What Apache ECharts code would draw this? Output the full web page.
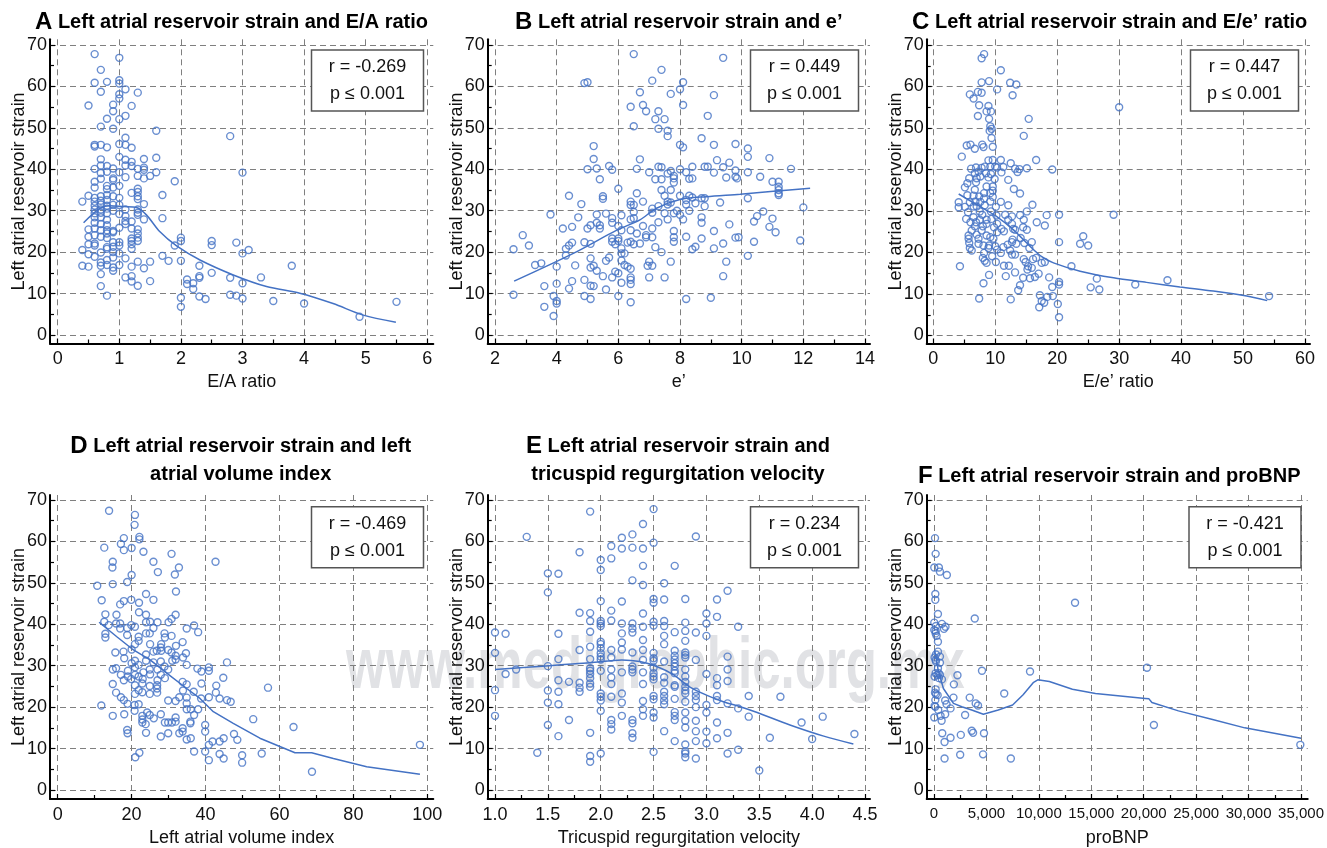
<!DOCTYPE html>
<html><head><meta charset="utf-8">
<script src="https://cdn.jsdelivr.net/npm/echarts@6/dist/echarts.min.js"></script>
<style>html,body{margin:0;padding:0;background:#fff}#c{width:1327px;height:848px}</style>
</head><body><div id="c"></div>
<script>
// ---------------- DATA ----------------
const yTicks = [0, 10, 20, 30, 40, 50, 60, 70];
const yMinor = [5, 15, 25, 35, 45, 55, 65];
const yName = 'Left atrial reservoir strain';

const aXTicks = [0, 1, 2, 3, 4, 5, 6];
const aXMinor = [0.5, 1.5, 2.5, 3.5, 4.5, 5.5];
const bXTicks = [2, 4, 6, 8, 10, 12, 14];
const bXMinor = [3, 5, 7, 9, 11, 13];
const cXTicks = [0, 10, 20, 30, 40, 50, 60];
const cXMinor = [5, 15, 25, 35, 45, 55];
const dXTicks = [0, 20, 40, 60, 80, 100];
const dXMinor = [10, 30, 50, 70, 90];
const eXTicks = [1.0, 1.5, 2.0, 2.5, 3.0, 3.5, 4.0, 4.5];
const eXMinor = [1.25, 1.75, 2.25, 2.75, 3.25, 3.75, 4.25];
const fXTicks = [0, 5000, 10000, 15000, 20000, 25000, 30000, 35000];
const fXMinor = [2500, 7500, 12500, 17500, 22500, 27500, 32500];

const aStats = ['r = -0.269', 'p \u2264 0.001'];
const bStats = ['r = 0.449', 'p \u2264 0.001'];
const cStats = ['r = 0.447', 'p \u2264 0.001'];
const dStats = ['r = -0.469', 'p \u2264 0.001'];
const eStats = ['r = 0.234', 'p \u2264 0.001'];
const fStats = ['r = -0.421', 'p \u2264 0.001'];

const aPoints = [[0.6,67.8],[1.0,66.9],[0.7,64.0],[0.6,60.9],[0.8,61.1],[1.0,61.5],[1.0,60.7],[0.7,58.7],[1.1,59.3],[1.0,58.1],[1.3,58.5],[1.0,57.1],[0.5,55.4],[0.9,55.6],[1.2,55.3],[0.9,54.0],[1.1,52.9],[0.8,52.2],[1.0,52.1],[0.7,50.3],[0.9,49.8],[1.6,49.3],[2.8,48.0],[1.1,47.6],[0.6,45.9],[0.6,45.5],[0.7,45.9],[0.8,45.3],[1.0,46.1],[1.1,45.9],[1.2,45.2],[0.7,42.4],[1.0,43.0],[1.1,42.3],[1.2,41.8],[1.4,42.5],[1.6,42.8],[0.6,40.1],[0.7,40.9],[0.8,40.8],[0.9,40.2],[1.1,40.9],[1.2,40.8],[1.3,40.1],[1.4,40.4],[0.7,39.1],[0.8,39.4],[1.0,39.3],[1.4,39.9],[1.6,39.3],[3.0,39.2],[0.7,37.7],[0.9,37.8],[0.9,37.4],[1.1,38.1],[1.3,38.4],[1.4,37.8],[1.5,38.4],[1.9,37.1],[0.6,37.0],[0.8,36.0],[1.0,36.0],[0.6,35.6],[0.8,35.2],[0.9,35.6],[1.3,35.3],[1.3,34.5],[1.2,34.3],[1.7,33.8],[0.5,33.6],[0.7,33.5],[0.8,33.8],[0.9,33.5],[1.3,33.5],[1.0,33.1],[1.3,32.8],[0.4,32.2],[0.6,33.1],[0.6,32.2],[0.7,32.4],[0.8,32.6],[1.4,31.6],[0.6,31.2],[0.7,31.5],[0.8,31.2],[0.9,31.4],[1.0,31.4],[0.6,30.3],[0.7,30.3],[0.8,30.5],[0.9,30.0],[1.1,30.3],[1.3,30.3],[0.6,29.4],[0.7,29.5],[0.8,29.4],[1.0,29.2],[1.3,29.5],[1.3,29.0],[1.1,28.7],[1.7,28.2],[0.6,28.4],[0.7,28.4],[0.8,27.8],[1.4,27.9],[1.1,27.5],[0.6,27.1],[0.7,26.8],[1.1,26.8],[1.2,27.4],[0.8,26.5],[0.6,25.7],[1.0,25.9],[1.2,25.7],[1.3,25.5],[0.5,25.5],[0.7,25.3],[0.8,25.3],[0.9,25.1],[0.9,24.8],[1.3,24.5],[0.8,24.5],[0.6,24.1],[0.5,23.7],[0.7,23.7],[1.2,23.3],[1.3,23.5],[2.0,23.5],[0.8,23.4],[1.2,22.7],[1.3,22.7],[2.5,22.7],[2.0,22.7],[2.9,22.3],[0.6,22.1],[0.5,21.9],[0.9,22.4],[1.0,22.4],[1.0,21.6],[0.6,21.6],[2.5,21.7],[1.9,21.6],[0.8,21.2],[0.9,21.3],[1.2,21.9],[0.8,20.8],[1.2,20.8],[0.4,20.5],[3.1,20.5],[1.0,19.7],[0.7,19.9],[0.5,19.5],[0.9,20.0],[3.0,19.7],[0.6,18.9],[0.9,18.7],[1.1,18.5],[1.7,19.1],[1.8,17.9],[2.0,17.9],[0.8,18.1],[0.7,17.5],[1.3,17.7],[1.5,17.7],[0.7,16.7],[0.8,16.9],[1.0,16.9],[0.4,16.7],[0.5,16.5],[3.8,16.7],[2.3,16.7],[1.2,16.5],[1.4,16.1],[0.9,16.3],[0.9,15.5],[0.7,14.7],[2.5,15.0],[1.2,14.2],[2.3,14.2],[2.3,13.8],[1.1,13.9],[2.8,13.8],[3.3,13.9],[2.1,13.4],[1.2,12.9],[1.5,13.0],[2.2,12.5],[2.1,12.3],[3.0,12.5],[1.3,11.9],[0.7,11.8],[2.2,11.1],[2.8,9.7],[2.9,9.5],[0.8,9.5],[2.3,9.3],[2.0,9.0],[2.4,8.7],[3.0,8.8],[3.5,8.2],[5.5,8.0],[4.0,7.6],[2.0,6.8],[4.9,4.4]];
const aFit = [[0.42,27.1],[0.69,30.6],[0.85,31.2],[1.07,31.0],[1.28,30.8],[1.44,29.0],[1.66,24.9],[1.93,21.5],[2.31,18.1],[2.85,14.5],[3.39,11.7],[3.93,10.1],[4.47,7.6],[4.96,4.8],[5.49,3.1]];

const bPoints = [[6.5,67.8],[9.4,66.9],[7.4,64.0],[7.1,61.4],[4.9,60.8],[5.0,61.0],[8.1,61.0],[8.0,59.3],[6.7,58.6],[7.7,58.2],[9.1,57.9],[6.8,55.5],[8.1,55.5],[6.4,55.1],[6.9,54.0],[7.3,54.0],[7.2,52.1],[7.5,52.1],[8.9,52.9],[6.5,50.4],[7.3,49.8],[7.6,49.3],[7.6,48.0],[8.7,47.5],[5.2,45.6],[8.0,45.9],[8.1,45.3],[9.1,45.9],[9.8,46.1],[10.2,45.0],[5.2,42.5],[6.7,42.4],[10.2,43.0],[10.9,42.7],[9.2,42.2],[9.6,41.6],[7.3,40.6],[7.4,40.5],[8.4,40.6],[8.8,40.6],[8.9,40.6],[5.7,40.8],[5.3,40.2],[5.0,40.0],[5.8,39.9],[6.6,40.1],[8.0,40.0],[7.0,39.3],[7.6,39.0],[7.7,39.6],[8.2,39.3],[9.1,39.2],[9.4,40.5],[9.8,39.7],[10.2,39.3],[11.6,40.1],[5.4,37.6],[7.2,37.6],[7.4,37.6],[7.8,37.8],[8.3,37.7],[8.4,37.8],[9.5,38.0],[9.8,38.2],[9.85,37.8],[10.6,38.2],[7.8,38.4],[7.8,36.8],[11.0,37.0],[11.2,37.0],[11.2,35.8],[11.2,35.0],[6.0,35.3],[7.4,35.0],[7.7,35.0],[11.2,34.2],[11.2,33.8],[4.4,33.6],[5.5,33.5],[5.5,32.9],[6.6,34.2],[7.5,33.6],[8.0,33.6],[8.3,33.6],[8.4,33.2],[8.2,32.6],[8.7,33.0],[8.8,33.0],[10.2,33.0],[6.4,32.2],[6.8,32.2],[7.6,32.2],[7.7,32.0],[9.3,32.0],[6.4,31.4],[6.5,31.4],[4.8,31.6],[7.3,31.1],[7.6,31.5],[8.2,31.5],[8.5,31.8],[8.8,31.1],[7.1,30.5],[7.1,29.5],[3.8,29.1],[5.3,29.1],[5.6,29.3],[5.8,28.2],[6.1,28.9],[6.5,29.7],[7.5,29.4],[7.8,29.4],[7.9,30.0],[8.0,29.0],[8.3,30.0],[10.7,29.8],[4.7,28.4],[6.4,27.9],[6.5,28.2],[8.1,27.9],[8.7,28.4],[10.5,28.7],[11.0,28.1],[5.3,27.1],[5.8,27.1],[7.3,27.2],[7.6,27.9],[8.7,27.1],[9.6,26.7],[10.4,27.4],[5.1,26.5],[5.4,26.5],[6.0,26.3],[6.8,26.3],[4.2,25.7],[4.5,26.1],[5.0,25.7],[5.4,25.7],[6.1,25.3],[6.4,25.3],[7.1,25.7],[7.8,25.1],[9.1,25.1],[10.9,26.1],[11.1,24.8],[2.9,24.1],[6.6,24.5],[6.9,24.1],[6.9,23.6],[7.1,23.6],[7.8,23.6],[8.2,23.7],[8.7,23.3],[9.9,23.6],[9.8,23.5],[5.8,23.3],[6.0,23.3],[6.0,22.7],[7.8,22.5],[6.4,22.5],[6.3,22.3],[6.7,22.1],[6.5,21.9],[4.5,22.3],[4.9,22.4],[5.1,22.0],[5.9,21.9],[9.4,22.1],[10.4,22.5],[11.9,22.8],[3.1,21.6],[4.4,21.6],[5.8,22.5],[4.3,20.8],[6.1,20.9],[6.2,19.7],[7.2,21.2],[7.4,20.0],[8.5,21.3],[8.4,20.7],[9.1,20.9],[2.6,20.7],[4.3,19.2],[6.1,19.7],[10.2,19.1],[5.1,18.5],[5.7,18.7],[5.6,17.9],[6.1,18.0],[7.7,17.7],[9.5,17.7],[7.0,17.7],[3.3,16.9],[3.5,17.3],[4.0,16.5],[4.6,16.8],[5.2,16.7],[5.1,16.3],[6.2,16.9],[7.1,16.7],[6.95,16.7],[6.3,16.5],[6.4,16.0],[5.3,15.5],[5.9,15.3],[6.0,14.9],[5.5,14.2],[5.8,13.9],[6.4,13.9],[7.0,13.9],[7.5,13.9],[9.4,14.2],[4.5,13.0],[4.9,13.3],[6.4,13.3],[6.1,12.6],[6.4,12.3],[4.0,12.4],[5.1,11.9],[5.2,11.8],[3.6,11.8],[4.4,11.2],[5.6,11.0],[2.6,9.7],[3.9,9.4],[4.9,9.4],[6.0,9.4],[5.1,8.7],[8.2,8.7],[9.0,9.0],[4.0,8.2],[4.0,7.6],[6.4,7.9],[3.6,6.8],[3.9,4.6],[12.0,30.8]];
const bFit = [[2.62,13.0],[4.54,19.7],[5.95,25.3],[6.7,27.8],[7.24,30.6],[8.0,32.7],[8.86,33.4],[9.95,34.0],[11.03,34.7],[12.22,35.4]];

const cPoints = [[8.2,67.8],[7.8,66.8],[10.9,63.9],[7.8,61.0],[9.0,61.3],[12.4,60.9],[13.4,60.5],[10.3,59.3],[7.2,58.7],[7.8,58.5],[5.9,58.1],[6.5,57.1],[12.8,57.9],[7.4,55.5],[8.9,55.3],[8.6,54.0],[9.3,54.0],[7.2,52.9],[9.0,52.2],[15.4,52.2],[9.2,50.4],[9.4,49.8],[9.1,49.3],[14.6,48.1],[9.4,47.6],[5.4,45.8],[6.0,46.0],[7.9,46.0],[8.1,45.4],[6.7,45.0],[9.6,45.5],[4.6,43.1],[8.9,42.2],[9.6,42.3],[10.9,42.3],[16.6,42.3],[12.5,41.5],[6.1,40.2],[6.9,40.5],[7.8,40.4],[8.3,40.7],[9.2,40.7],[10.0,40.7],[10.3,40.5],[11.3,40.6],[13.2,40.2],[13.9,40.1],[15.1,40.3],[19.2,40.0],[6.7,39.1],[7.3,39.5],[8.5,39.1],[9.3,38.9],[11.0,39.3],[13.6,39.4],[7.0,37.9],[7.6,38.3],[8.9,38.1],[9.9,37.7],[12.1,37.5],[5.8,37.9],[5.5,36.7],[6.9,36.9],[8.6,35.9],[9.6,35.9],[13.0,35.3],[5.1,35.7],[6.7,35.1],[9.6,34.9],[8.2,34.3],[9.2,34.3],[14.0,34.2],[5.5,33.8],[6.5,33.7],[7.4,33.5],[8.2,33.0],[9.6,33.4],[4.1,32.1],[5.9,32.1],[6.8,32.3],[7.6,32.2],[9.2,32.3],[10.9,32.2],[12.1,31.4],[16.0,31.5],[4.1,30.9],[5.1,31.0],[6.5,31.1],[7.0,31.1],[8.3,31.4],[10.1,31.0],[5.6,29.7],[7.5,29.9],[9.3,29.9],[15.1,29.9],[7.9,29.1],[10.2,28.9],[11.6,29.1],[14.0,29.0],[18.3,29.0],[20.3,29.1],[29.1,29.1],[5.3,28.1],[6.5,28.5],[7.5,27.9],[8.6,27.9],[9.4,28.1],[12.7,28.7],[14.6,27.9],[12.1,27.9],[6.0,27.3],[6.9,27.3],[8.6,26.9],[10.3,26.9],[12.7,26.9],[16.7,27.3],[6.7,26.3],[8.0,26.3],[9.8,26.1],[11.0,25.7],[12.9,25.7],[14.5,26.1],[15.1,25.5],[18.0,26.5],[6.2,25.3],[7.8,25.3],[10.3,24.9],[11.4,25.1],[13.2,25.5],[5.7,24.1],[7.0,24.3],[8.6,24.1],[9.2,23.7],[14.1,23.5],[24.2,23.9],[5.7,23.3],[7.3,23.3],[9.7,23.3],[12.8,23.1],[15.9,22.5],[20.3,22.5],[23.7,22.1],[25.0,21.7],[5.8,22.3],[7.3,22.1],[8.1,21.7],[9.0,21.7],[10.0,21.5],[11.3,21.3],[12.0,21.9],[12.7,22.5],[13.4,22.1],[14.7,22.3],[5.9,21.1],[6.2,20.5],[8.9,21.1],[10.3,20.7],[12.4,20.5],[15.5,21.1],[10.9,19.9],[12.7,19.5],[13.2,19.5],[8.2,19.9],[9.5,19.1],[8.0,18.7],[14.6,18.4],[16.1,18.4],[16.6,18.7],[8.3,18.0],[8.6,17.5],[10.1,17.7],[14.9,17.7],[17.5,17.5],[18.0,17.7],[11.4,16.8],[12.2,16.8],[15.3,16.7],[15.9,16.3],[22.3,16.7],[4.3,16.7],[15.2,15.9],[13.2,15.2],[17.0,14.9],[9.0,14.6],[11.7,14.3],[14.5,13.9],[15.6,13.8],[16.4,14.1],[18.7,14.0],[26.4,13.7],[20.3,12.9],[37.8,13.3],[32.6,12.3],[8.1,12.6],[14.0,12.1],[20.3,12.3],[19.2,11.7],[25.4,11.6],[26.8,11.1],[13.7,10.9],[17.2,9.7],[7.4,8.9],[12.5,8.7],[18.4,9.3],[19.3,9.5],[54.2,9.5],[17.5,8.3],[17.9,7.9],[17.1,6.8],[20.1,7.6],[20.3,4.4],[30.0,55.0]];
const cFit = [[4.1,34.1],[7.5,31.1],[10.2,28.7],[12.9,25.5],[15.6,21.5],[17.5,19.0],[19.4,17.5],[23.7,15.5],[29.1,13.9],[34.4,12.8],[39.8,11.7],[45.2,10.7],[50.6,9.5],[53.9,8.4]];

const dPoints = [[13.9,67.4],[20.9,66.4],[20.8,64.0],[22.1,61.1],[22.1,60.5],[17.9,60.8],[17.1,59.4],[12.6,58.5],[20.0,58.4],[17.9,57.9],[23.2,57.5],[30.8,57.0],[14.9,55.1],[14.8,53.7],[25.9,55.1],[42.7,55.1],[32.8,53.7],[27.1,52.6],[31.7,52.0],[20.0,51.9],[18.8,50.2],[14.9,49.7],[10.7,49.3],[32.0,47.9],[23.9,47.3],[11.9,45.8],[17.9,45.6],[19.9,45.9],[22.0,45.2],[25.9,45.9],[16.9,44.8],[12.9,42.4],[15.9,42.3],[23.9,42.3],[22.0,42.9],[31.9,42.3],[30.8,41.3],[30.0,40.5],[12.6,40.6],[16.9,40.2],[13.8,39.8],[15.8,40.2],[19.9,39.8],[20.9,39.4],[23.9,40.5],[25.0,40.6],[27.0,40.5],[18.8,39.1],[16.9,39.0],[25.9,39.1],[36.9,39.7],[34.9,39.0],[38.0,38.1],[12.9,37.7],[12.9,36.8],[18.8,37.4],[23.9,37.8],[24.9,37.8],[21.9,37.0],[28.9,37.8],[29.0,36.8],[30.8,37.2],[21.9,36.0],[20.9,35.2],[25.0,35.2],[33.8,35.7],[32.0,34.8],[28.0,35.2],[27.9,34.4],[26.8,33.6],[28.0,33.6],[29.9,33.8],[20.0,33.9],[17.8,33.4],[15.6,33.2],[23.9,32.7],[25.9,33.4],[30.8,33.2],[34.7,33.0],[31.9,32.4],[33.9,32.0],[18.0,31.8],[20.9,31.2],[23.9,31.2],[25.9,30.8],[27.9,31.0],[31.0,31.2],[31.9,31.5],[20.0,30.6],[20.9,29.6],[21.9,30.2],[24.9,29.1],[14.9,29.1],[15.8,29.4],[27.0,29.1],[28.9,29.8],[29.9,29.1],[34.9,30.2],[37.8,29.3],[38.9,28.6],[40.9,29.6],[40.9,28.8],[45.8,30.8],[19.0,28.8],[23.2,28.4],[17.1,27.8],[19.0,27.4],[20.9,27.8],[21.9,27.4],[25.0,27.9],[27.9,27.8],[29.0,27.0],[17.9,26.5],[19.9,26.8],[23.0,26.8],[27.0,26.5],[33.8,26.1],[44.8,27.1],[14.9,25.6],[20.9,25.3],[22.9,25.7],[24.9,25.1],[26.9,25.3],[34.9,25.5],[38.9,25.7],[42.9,25.2],[56.9,24.7],[21.9,24.1],[26.9,24.5],[33.9,24.0],[20.9,23.2],[15.8,23.5],[22.9,23.6],[24.9,23.2],[26.9,23.5],[36.8,23.7],[42.8,23.5],[32.9,22.4],[34.9,22.3],[38.8,22.1],[40.9,22.4],[43.8,22.1],[45.8,21.7],[46.8,21.3],[17.1,22.4],[17.9,21.7],[18.9,20.8],[11.8,20.4],[20.8,20.5],[21.9,20.7],[29.9,21.6],[31.9,21.5],[34.9,20.9],[34.9,19.5],[36.0,19.5],[36.9,18.1],[38.0,19.5],[20.8,19.1],[24.2,18.7],[27.9,18.3],[18.0,18.3],[14.9,17.9],[22.9,17.9],[24.9,18.1],[26.0,17.3],[31.9,17.5],[31.9,16.5],[22.9,17.0],[22.9,16.3],[23.8,15.9],[29.0,16.3],[29.9,16.3],[30.9,16.3],[35.9,16.5],[35.9,16.1],[52.9,17.1],[39.9,15.7],[63.8,15.2],[33.8,14.9],[18.8,14.5],[18.9,13.7],[23.9,13.8],[29.9,13.7],[32.9,13.7],[33.8,14.1],[39.9,14.1],[47.7,13.5],[27.9,12.9],[34.9,12.2],[36.0,12.5],[43.8,11.7],[44.9,12.5],[48.6,12.1],[41.9,11.7],[40.9,10.9],[98.0,10.9],[36.9,9.3],[39.9,9.3],[22.1,9.0],[43.8,8.7],[49.9,8.4],[55.2,8.8],[21.0,7.9],[44.9,7.6],[40.9,7.2],[49.9,6.6],[68.8,4.4]];
const dFit = [[11.2,40.5],[16.0,37.0],[20.5,33.8],[25.0,31.4],[29.5,28.2],[34.9,24.5],[38.5,22.1],[42.1,18.9],[47.5,16.1],[54.7,12.5],[60.1,10.5],[64.2,9.0],[68.7,9.0],[74.6,7.6],[83.6,5.6],[98.0,3.8]];

const ePoints = [[1.0,38.0],[1.0,33.1],[1.0,24.1],[1.0,17.9],[1.1,37.7],[1.1,28.0],[1.2,29.1],[1.3,61.1],[1.4,9.0],[1.5,52.3],[1.5,47.7],[1.5,29.9],[1.5,24.0],[1.5,21.1],[1.5,15.7],[1.6,52.2],[1.6,37.7],[1.6,31.6],[1.6,26.5],[1.6,23.7],[1.6,20.7],[1.6,13.0],[1.7,26.1],[1.7,16.9],[1.8,57.4],[1.8,42.8],[1.8,33.8],[1.8,25.9],[1.8,24.7],[1.8,23.7],[1.9,67.2],[1.9,42.7],[1.9,40.8],[1.9,38.2],[1.9,34.6],[1.9,31.6],[1.9,29.4],[1.9,28.8],[1.9,28.0],[1.9,27.0],[1.9,25.7],[1.9,24.9],[1.9,13.8],[1.9,8.2],[1.9,6.8],[2.0,55.5],[2.0,53.1],[2.0,45.6],[2.0,40.8],[2.0,40.2],[2.0,39.6],[2.0,35.8],[2.0,35.2],[2.0,34.2],[2.0,33.0],[2.0,32.2],[2.0,31.5],[2.0,28.8],[2.0,23.3],[2.0,22.5],[2.0,21.6],[2.0,19.1],[2.0,8.8],[2.1,58.9],[2.1,55.9],[2.1,43.3],[2.1,40.9],[2.1,33.8],[2.1,32.0],[2.1,29.1],[2.1,27.2],[2.1,25.6],[2.1,22.5],[2.1,16.9],[2.1,15.9],[2.1,14.6],[2.2,60.9],[2.2,58.3],[2.2,45.5],[2.2,40.2],[2.2,37.8],[2.2,35.6],[2.2,33.9],[2.2,28.4],[2.2,23.3],[2.2,21.1],[2.2,17.9],[2.3,61.7],[2.3,58.5],[2.3,50.6],[2.3,40.2],[2.3,39.0],[2.3,38.0],[2.3,33.2],[2.3,29.8],[2.3,29.1],[2.3,28.4],[2.3,16.9],[2.3,16.1],[2.3,13.7],[2.3,12.6],[2.4,64.2],[2.4,58.3],[2.4,54.1],[2.4,49.5],[2.4,42.6],[2.4,39.4],[2.4,36.2],[2.4,33.8],[2.4,31.4],[2.4,28.4],[2.4,25.6],[2.4,21.5],[2.4,19.5],[2.4,17.9],[2.5,67.8],[2.5,59.7],[2.5,46.1],[2.5,45.2],[2.5,40.6],[2.5,39.7],[2.5,33.1],[2.5,31.8],[2.5,31.2],[2.5,29.5],[2.5,28.2],[2.5,27.4],[2.5,26.7],[2.5,22.7],[2.5,21.9],[2.5,18.7],[2.5,17.5],[2.5,9.2],[2.6,49.9],[2.6,46.0],[2.6,40.8],[2.6,39.6],[2.6,37.2],[2.6,35.2],[2.6,31.0],[2.6,27.2],[2.6,25.9],[2.6,23.7],[2.6,22.7],[2.6,21.6],[2.6,20.7],[2.6,14.2],[2.7,54.1],[2.7,38.1],[2.7,33.6],[2.7,32.4],[2.7,31.5],[2.7,30.6],[2.7,29.8],[2.7,28.8],[2.7,28.2],[2.7,25.3],[2.7,24.9],[2.7,22.0],[2.7,18.8],[2.7,17.9],[2.7,16.9],[2.7,11.8],[2.8,46.1],[2.8,40.4],[2.8,38.4],[2.8,36.0],[2.8,33.2],[2.8,32.6],[2.8,32.0],[2.8,29.1],[2.8,27.4],[2.8,26.1],[2.8,24.9],[2.8,24.0],[2.8,23.3],[2.8,21.3],[2.8,18.7],[2.8,16.7],[2.8,15.1],[2.8,11.0],[2.8,9.3],[2.8,8.8],[2.8,7.9],[2.9,61.2],[2.9,38.0],[2.9,31.4],[2.9,23.7],[2.9,22.7],[2.9,21.7],[2.9,20.0],[2.9,16.7],[2.9,14.2],[2.9,11.8],[2.9,7.6],[3.0,42.6],[3.0,40.2],[3.0,37.2],[3.0,28.0],[3.0,20.5],[3.0,18.7],[3.0,14.1],[3.0,11.3],[3.1,46.0],[3.1,41.8],[3.1,27.0],[3.1,25.3],[3.1,22.7],[3.1,21.7],[3.1,16.3],[3.1,12.5],[3.2,48.1],[3.2,32.2],[3.2,29.1],[3.2,26.3],[3.2,20.9],[3.2,13.8],[3.2,8.8],[3.3,39.4],[3.3,19.7],[3.3,9.7],[3.4,22.7],[3.4,17.7],[3.5,4.7],[3.6,12.6],[3.7,22.5],[3.9,16.3],[4.0,12.3],[4.1,17.7],[4.4,13.5]];
const eFit = [[1.0,29.1],[1.3,29.6],[1.6,30.2],[1.9,30.7],[2.2,31.4],[2.37,31.0],[2.53,29.8],[2.69,27.8],[2.84,24.9],[3.0,22.9],[3.16,21.3],[3.32,20.1],[3.48,18.7],[3.79,15.7],[4.11,13.0],[4.39,11.1]];

const fPoints = [[100,60.8],[160,57.0],[30,53.7],[470,53.7],[570,52.7],[1230,51.9],[130,47.3],[130,45.9],[380,42.5],[13450,45.2],[3890,41.4],[30,40.4],[760,40.1],[1100,39.4],[950,38.9],[160,38.4],[160,37.8],[250,37.2],[380,35.8],[380,33.4],[190,32.7],[570,32.2],[160,31.4],[570,30.7],[380,29.4],[4580,28.8],[9160,28.6],[20310,29.5],[160,28.2],[320,27.8],[570,27.8],[2240,27.7],[470,27.0],[760,26.7],[1900,25.5],[160,24.3],[100,23.5],[350,22.9],[6700,23.3],[1860,22.3],[3410,22.3],[130,21.7],[1070,21.6],[3980,20.9],[4200,20.4],[130,20.1],[1200,20.7],[410,19.3],[1580,19.7],[630,17.9],[30,17.5],[1070,18.3],[2970,18.1],[730,16.7],[20970,15.7],[790,13.7],[2560,13.3],[3600,14.3],[3730,13.8],[4770,13.7],[1580,12.6],[1010,11.6],[34930,10.9],[2500,8.5],[4680,8.6],[1010,7.6],[7330,7.6],[60,32.0],[190,31.0],[450,28.2],[60,27.4],[190,23.1],[60,20.3],[30,38.6],[190,39.6]];
const fFit = [[60,33.8],[400,29.0],[900,24.5],[1860,20.9],[2650,20.1],[3600,19.3],[4710,18.3],[6130,19.3],[7500,20.5],[8500,23.0],[9500,26.0],[9900,26.6],[11000,26.2],[13200,24.3],[15400,23.3],[20150,22.1],[20500,22.0],[20780,21.1],[23310,19.1],[26470,17.1],[29630,15.0],[35000,12.5]];

// ---------------- LAYOUT / STYLE ----------------
const FONT = '"Liberation Sans", Arial, Helvetica, sans-serif';
const BLUE = '#4472c4';
const panels = [
  {title:'{l|A}{t| Left atrial reservoir strain and E/A ratio}', tx:231.5, ty:8, xName:'E/A ratio',
   pts:aPoints, fit:aFit, xt:aXTicks, xm:aXMinor, stats:aStats, smooth:0.3, xfs:18,
   frame:[50,39.3,433.3,343.5], xPx:[57.7,427.3], yPx:[335,45], box:[367.5,50]},
  {title:'{l|B}{t| Left atrial reservoir strain and e\u2019}', tx:678.8, ty:8, xName:'e\u2019',
   pts:bPoints, fit:bFit, xt:bXTicks, xm:bXMinor, stats:bStats, smooth:0.3, xfs:18,
   frame:[487.7,39.3,870,343.5], xPx:[495,865], yPx:[335,45], box:[804.5,50]},
  {title:'{l|C}{t| Left atrial reservoir strain and E/e\u2019 ratio}', tx:1109.7, ty:8, xName:'E/e\u2019 ratio',
   pts:cPoints, fit:cFit, xt:cXTicks, xm:cXMinor, stats:cStats, smooth:0.3, xfs:18,
   frame:[926.7,39.3,1310,343.5], xPx:[933.3,1305], yPx:[335.5,45], box:[1244.5,50]},
  {title:'{l|D}{t| Left atrial reservoir strain and left}\n{t|atrial volume index}', tx:240.7, ty:432.7, xName:'Left atrial volume index',
   pts:dPoints, fit:dFit, xt:dXTicks, xm:dXMinor, stats:dStats, smooth:false, xfs:18,
   frame:[50,495,433.3,799], xPx:[57.7,427.3], yPx:[790,500], box:[367.5,506.7]},
  {title:'{l|E}{t| Left atrial reservoir strain and}\n{t|tricuspid regurgitation velocity}', tx:678, ty:432.7, xName:'Tricuspid regurgitation velocity',
   pts:ePoints, fit:eFit, xt:eXTicks, xm:eXMinor, stats:eStats, smooth:0.3, xfs:18, fmt:v=>v.toFixed(1),
   frame:[487.7,495,870,799], xPx:[495,865], yPx:[790,500], box:[804.5,506.7]},
  {title:'{l|F}{t| Left atrial reservoir strain and proBNP}', tx:1109.2, ty:462.7, xName:'proBNP',
   pts:fPoints, fit:fFit, xt:fXTicks, xm:fXMinor, stats:fStats, smooth:false, xfs:15, fmt:v=>Number(v).toLocaleString('en-US'),
   frame:[926.7,495,1310,799], xPx:[934,1303.3], yPx:[790,500], box:[1245,506.7]}
];

const grid = [], xAxis = [], yAxis = [], series = [], title = [];
const dash = {type:[6,4], color:'#7f7f7f', width:1};
const labelStyle = {fontSize:18, color:'#111', fontFamily:FONT};

panels.forEach((p, i) => {
  const [fl, ft, fr, fb] = p.frame;
  grid.push({left:fl, top:ft, width:fr-fl, height:fb-ft, containLabel:false});
  const x0 = p.xt[0], x1 = p.xt[p.xt.length-1];
  const kx = (x1 - x0) / (p.xPx[1] - p.xPx[0]);
  const xmin = x0 + (fl - p.xPx[0]) * kx, xmax = x0 + (fr - p.xPx[0]) * kx;
  const ky = 70 / (p.yPx[0] - p.yPx[1]);
  const ymin = -(fb - p.yPx[0]) * ky, ymax = (p.yPx[0] - ft) * ky;

  xAxis.push({type:'value', gridIndex:i, min:xmin, max:xmax, position:'bottom',
    axisLine:{show:true, onZero:false, lineStyle:{color:'#000', width:2}},
    axisTick:{show:true, inside:true, length:5, customValues:p.xt, lineStyle:{color:'#000', width:1.2}},
    axisLabel:{show:true, customValues:p.xt, margin:7, hideOverlap:false, showMaxLabel:true, showMinLabel:true,
      formatter:p.fmt || (v=>String(v)), fontSize:p.xfs, color:'#111', fontFamily:FONT},
    splitLine:{show:true, lineStyle:dash},
    name:p.xName, nameLocation:'middle', nameGap:30, nameMoveOverlap:false, nameTextStyle:labelStyle});
  xAxis.push({type:'value', gridIndex:i, min:xmin, max:xmax, position:'bottom',
    axisLine:{show:false, onZero:false},
    axisTick:{show:true, inside:true, length:4, customValues:p.xm, lineStyle:{color:'#000', width:1.2}},
    axisLabel:{show:false}, splitLine:{show:false}});
  yAxis.push({type:'value', gridIndex:i, min:ymin, max:ymax, position:'left',
    axisLine:{show:true, onZero:false, lineStyle:{color:'#000', width:2}},
    axisTick:{show:true, inside:true, length:5, customValues:yTicks, lineStyle:{color:'#000', width:1.2}},
    axisLabel:Object.assign({show:true, customValues:yTicks, margin:3}, labelStyle),
    splitLine:{show:true, lineStyle:dash},
    name:yName, nameLocation:'middle', nameGap:22, nameRotate:90, nameMoveOverlap:false, nameTextStyle:labelStyle});
  yAxis.push({type:'value', gridIndex:i, min:ymin, max:ymax, position:'left',
    axisLine:{show:false, onZero:false},
    axisTick:{show:true, inside:true, length:4, customValues:yMinor, lineStyle:{color:'#000', width:1.2}},
    axisLabel:{show:false}, splitLine:{show:false}});

  series.push({type:'scatter', xAxisIndex:2*i, yAxisIndex:2*i, data:p.pts, symbol:'circle', symbolSize:7,
    itemStyle:{color:'rgba(255,255,255,0)', borderColor:BLUE, borderWidth:1.4}, silent:true, z:3});
  series.push({type:'line', xAxisIndex:2*i, yAxisIndex:2*i, data:p.fit, showSymbol:false, smooth:p.smooth,
    lineStyle:{color:BLUE, width:1.5}, silent:true, z:4});

  title.push({text:p.title, left:p.tx, top:p.ty, textAlign:'center', padding:0,
    textStyle:{rich:{
      l:{fontSize:24, fontWeight:'bold', color:'#000', fontFamily:FONT, lineHeight:28},
      t:{fontSize:20, fontWeight:'bold', color:'#000', fontFamily:FONT, lineHeight:28}}}});
  title.push({text:p.stats.join('\n'), left:p.box[0]-17, top:p.box[1], textAlign:'center',
    padding:[4,17,3,17], backgroundColor:'#fff', borderColor:'#555', borderWidth:1.5,
    textStyle:{fontSize:18, fontWeight:'normal', color:'#111', lineHeight:27, fontFamily:FONT}});
});

const chart = echarts.init(document.getElementById('c'), null, {renderer:'canvas'});
chart.setOption({
  animation:false,
  backgroundColor:'#fff',
  title, grid, xAxis, yAxis, series,
  graphic:[{type:'text', x:346, y:668, scaleY:1.4, z:0, silent:true,
    style:{text:'www.medigraphic.org.mx', font:'bold 51px "Liberation Sans", Arial, sans-serif', fill:'#e1e2e5', verticalAlign:'middle'}}]
});
</script>
</body></html>
